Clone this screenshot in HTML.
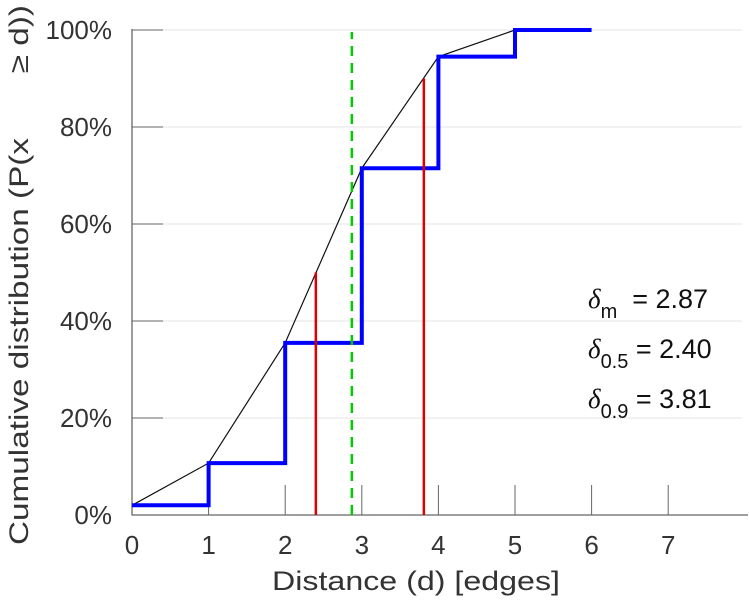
<!DOCTYPE html>
<html><head><meta charset="utf-8"><style>
body{margin:0;background:#fff}
svg{display:block;font-family:"Liberation Sans",sans-serif}
</style></head><body>
<svg id="chart" width="749" height="600" viewBox="0 0 749 600">
<g id="grid"></g>
<g id="axes"></g>
<g id="marks"></g>
<text x="416" y="590" font-size="27" fill="#333" text-anchor="middle" textLength="288" lengthAdjust="spacingAndGlyphs">Distance (d) [edges]</text>
<text transform="translate(28,275) rotate(-90)" font-size="27" fill="#333" text-anchor="middle" xml:space="preserve" textLength="540" lengthAdjust="spacingAndGlyphs">Cumulative distribution (P(x       ≥ d))</text>
<g font-size="27" fill="#111">
<text x="588" y="308"><tspan font-style="italic" font-family="Liberation Serif">δ</tspan><tspan font-size="20" dy="10">m</tspan><tspan dy="-10" xml:space="preserve">  = 2.87</tspan></text>
<text x="588" y="358"><tspan font-style="italic" font-family="Liberation Serif">δ</tspan><tspan font-size="20" dy="10">0.5</tspan><tspan dy="-10" xml:space="preserve"> = 2.40</tspan></text>
<text x="588" y="408"><tspan font-style="italic" font-family="Liberation Serif">δ</tspan><tspan font-size="20" dy="10">0.9</tspan><tspan dy="-10" xml:space="preserve"> = 3.81</tspan></text>
</g>
</svg>
<script>
const xTicks=[0,1,2,3,4,5,6,7];
const yTicks=[0,20,40,60,80,100];
const steps=[0,1,2,3,4,5,6];
const cdf=[2,10.7,35.5,71.5,94.5,100,100];
const quantX=[2.40,3.81];
const quantY=[50,90];
const meanX=2.87;
const NS="http://www.w3.org/2000/svg";
const X=v=>132+v*76.6, Y=v=>515-v*4.85;
function mk(p,t,a){const e=document.createElementNS(NS,t);for(const k in a)e.setAttribute(k,a[k]);p.appendChild(e);return e;}
const grid=document.getElementById('grid'),axes=document.getElementById('axes'),marks=document.getElementById('marks');
yTicks.forEach(v=>{
 if(v>0){const g=mk(grid,'line',{x1:132,x2:742,y1:Y(v),y2:Y(v),stroke:'#e6e6e6','stroke-width':1});
 
 }
 const t=mk(axes,'line',{x1:132,x2:163,y1:Y(v),y2:Y(v),stroke:'#666','stroke-width':1});
 
 
 const l=mk(axes,'text',{x:112,y:Y(v)+9,'font-size':26,fill:'#333','text-anchor':'end'});l.textContent=v+'%';
 
 
});
xTicks.forEach(v=>{
 const t=mk(axes,'line',{x1:X(v),x2:X(v),y1:515,y2:485,stroke:'#666','stroke-width':1});
 
 
 const l=mk(axes,'text',{x:X(v),y:554,'font-size':26,fill:'#333','text-anchor':'middle'});l.textContent=v;
 
 
});
const ax=mk(axes,'path',{d:`M132,${Y(100)-1} V515 H748`,stroke:'#666','stroke-width':1.3,fill:'none'});


let d='';steps.forEach((s,i)=>{if(i<steps.length-1)d+=(i?'L':'M')+X(s)+','+Y(cdf[i]);});
const bl=mk(marks,'path',{d:d,stroke:'#111','stroke-width':1.2,fill:'none'});


let sd='';steps.forEach((s,i)=>{if(i<steps.length-1){sd+=(i?'L':'M')+X(s)+','+Y(cdf[i])+'L'+X(steps[i+1])+','+Y(cdf[i]);}});
const st=mk(marks,'path',{d:sd,stroke:'#0000ff','stroke-width':4,fill:'none'});


quantX.forEach((q,i)=>{
 const r=mk(marks,'line',{x1:X(q),x2:X(q),y1:515,y2:Y(quantY[i]),stroke:'#dd0000','stroke-width':2.5});
 
 
});
const m=mk(marks,'line',{x1:X(meanX),x2:X(meanX),y1:515,y2:Y(100)+2,stroke:'#00cc00','stroke-width':2.5,'stroke-dasharray':'10,7'});


</script>
</body></html>
